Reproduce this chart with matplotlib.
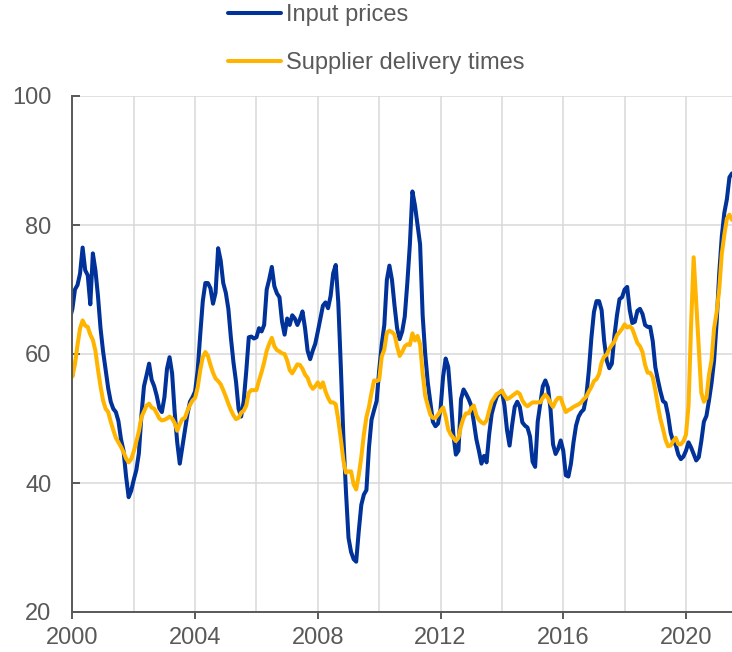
import matplotlib
matplotlib.use("Agg")
import matplotlib.pyplot as plt
import numpy as np
from matplotlib.ticker import MultipleLocator

# monthly series, Dec 1999 .. Jul 2021
START_YEAR = 1999 + 11 / 12
input_prices = [
    65.5,
    67, 70, 70.7, 72.5, 76.5, 73, 72.2, 67.7, 75.6, 73, 69, 64,
    60.4, 57.5, 54.7, 52.6, 51.5, 51, 49.6, 46.8, 45, 41, 37.8, 38.8,
    40.5, 42, 44.6, 50.5, 55, 56.7, 58.5, 56, 55, 53.5, 51.6, 51,
    53.3, 57.7, 59.5, 57, 51, 46.3, 43, 45.6, 48.3, 50.7, 52.6, 53.3,
    54.2, 57.5, 63, 68.2, 71, 71, 70.2, 67.8, 69.5, 76.4, 74.5, 71,
    69.5, 67, 62.5, 58.7, 55.7, 51.5, 50.3, 52.7, 57.3, 62.6, 62.7, 62.4,
    62.6, 64, 63.5, 64.5, 70, 71.6, 73.5, 70.5, 69.4, 68.8, 65, 63,
    65.5, 64.5, 66, 65.5, 64.5, 65.4, 66.6, 64, 60.5, 59.2, 60.5, 61.6,
    63.5, 65.5, 67.5, 68, 67.1, 69, 72.5, 73.8, 68, 58, 47, 38.7,
    31.5, 29.3, 28.2, 27.8, 32.5, 36.6, 38.2, 38.9, 45.5, 49.8, 51.3, 52.7,
    57.5, 61.5, 64.5, 71.5, 73.7, 71.5, 67.5, 64, 62.3, 63.5, 65.8, 71,
    77, 85.2, 83, 80, 77, 66, 60, 55.6, 52.6, 49.5, 48.8, 49.2,
    51.5, 56.5, 59.3, 58, 53, 47.5, 44.4, 45, 53, 54.5, 53.8, 53,
    52, 49.5, 46.8, 45, 43, 44.2, 43.2, 47.5, 50.7, 52.2, 53.4, 53.9,
    54.3, 52, 48.2, 45.8, 49, 51.8, 52.6, 51.8, 49.4, 48.9, 48.6, 47.2,
    43.3, 42.5, 49.5, 52.3, 55, 55.9, 54.8, 51.5, 46, 44.5, 45.3, 46.6,
    45, 41.2, 41, 43, 46.3, 48.9, 50.3, 51, 51.4, 53.4, 57.4, 62.5,
    66.5, 68.2, 68.2, 66.8, 62, 59, 57.8, 58.5, 62.8, 66, 68.5, 68.8,
    70, 70.4, 66.8, 64.8, 65, 66.7, 67, 66.2, 64.5, 64.2, 64.2, 62,
    58, 56, 54.2, 52.7, 52.4, 50.5, 47.8, 46.4, 45.9, 44.4, 43.7, 44.1,
    45, 46.3, 45.5, 44.5, 43.5, 44, 46.5, 49.5, 50.4, 52.8, 55.5, 59,
    65, 72.5, 78.2, 81.9, 84, 87.4, 88,
]
delivery_times = [
    61.5,
    56.5, 58.4, 61.4, 64, 65.2, 64.4, 64.2, 63, 62.2, 60.5, 57.6, 55,
    52.8, 51.5, 51, 49.5, 48.2, 47, 46.3, 45.6, 44.8, 43.8, 43.2, 43.7,
    44.9, 46.4, 48, 50.2, 51.1, 52, 52.3, 51.7, 51.5, 50.8, 50, 49.7,
    49.8, 50, 50.3, 50, 49.3, 48.1, 49.1, 49.9, 50.1, 51.2, 52.1, 52.8,
    53.2, 54.8, 57.5, 59.5, 60.3, 59.7, 58.3, 57.1, 56.2, 55.8, 55.3, 54.4,
    53.4, 52.3, 51.3, 50.5, 49.9, 50.1, 50.9, 51.2, 52, 54, 54.4, 54.4,
    54.4, 55.9, 57.2, 58.7, 60.5, 61.6, 62.5, 61.2, 60.6, 60.4, 60.1, 60,
    59, 57.5, 57, 57.7, 58.4, 58.3, 57.7, 56.8, 56.3, 55.2, 54.6, 55,
    55.6, 54.8, 55.6, 54.2, 53.2, 52.5, 52.5, 52.2, 49.8, 46.8, 43.5, 41.6,
    41.8, 41.8, 39.8, 39, 41.2, 44, 47.5, 50.2, 51.8, 54, 55.9, 55.8,
    56, 59.6, 60.7, 63.3, 63.6, 63.4, 63, 61.2, 59.7, 60.3, 61.2, 61.5,
    61.4, 63.2, 62.1, 62.8, 61.5, 57, 53.5, 52, 50.6, 50.1, 50.1, 50.6,
    51.2, 51.7, 50.3, 48.3, 47.5, 47, 46.5, 47, 48.8, 50.1, 50.8, 50.8,
    51.6, 52, 50.5, 49.8, 49.4, 49.2, 49.7, 51.2, 52.6, 53.2, 53.8, 54,
    54.3, 53.6, 53, 53.2, 53.5, 53.8, 54.1, 53.8, 52.8, 52.2, 51.9, 52.2,
    52.5, 52.5, 52.5, 52.5, 53.2, 53.7, 53.2, 52.4, 51.8, 52.7, 53.2, 53.2,
    52, 51, 51.3, 51.5, 51.8, 52, 52.2, 52.5, 53, 53.4, 54.2, 54.9,
    55.8, 56.1, 56.9, 58.7, 59.6, 59.9, 60.8, 61.4, 61.9, 62.9, 63.4, 63.9,
    64.6, 64.1, 64.3, 63.9, 62.8, 61.7, 61.2, 60.3, 58.3, 57.1, 57.1, 56.4,
    54.4, 52, 49.9, 48.4, 46.7, 45.7, 45.8, 46.5, 47, 46, 46, 46.5,
    47.5, 52, 64.5, 75, 68, 61, 54, 52.6, 53.2, 56.8, 59, 64,
    66.5, 70, 75.5, 78.5, 81, 81.6, 80.8,
]
labels = ["Input prices", "Supplier delivery times"]
colors = ["#003299", "#FFB400"]

TEXT = "#595959"
GRID = "#d9d9d9"
plt.rcParams["font.family"] = ["Liberation Sans", "DejaVu Sans"]
plt.rcParams["font.size"] = 17

x = START_YEAR + np.arange(len(input_prices)) / 12

fig = plt.figure(figsize=(7.32, 6.52), dpi=100)
ax = fig.add_axes([72.4 / 732, 40 / 652, (732 - 72.4) / 732, 516 / 652])

for vals, lab, col in zip([input_prices, delivery_times], labels, colors):
    ax.plot(x, vals, color=col, lw=2.9, label=lab, solid_capstyle="round",
            solid_joinstyle="round")

ax.set_xlim(2000, x[-1])
ax.set_ylim(20, 100)
ax.xaxis.set_major_locator(MultipleLocator(4))
ax.xaxis.set_minor_locator(MultipleLocator(2))
ax.yaxis.set_major_locator(MultipleLocator(20))
ax.grid(True, which="both", axis="x", color=GRID, lw=1.1)
ax.grid(True, which="major", axis="y", color=GRID, lw=1.1)
ax.set_axisbelow(True)

for s in ["top", "right"]:
    ax.spines[s].set_visible(False)
for s in ["left", "bottom"]:
    ax.spines[s].set_color(TEXT)
    ax.spines[s].set_linewidth(1.4)

ax.tick_params(axis="y", direction="in", length=6, width=1.4, color=TEXT,
               labelcolor=TEXT, pad=15, labelsize=17)
ax.tick_params(axis="x", which="major", direction="out", length=5, width=1.4,
               color=TEXT, labelcolor=TEXT, pad=6, labelsize=17)
ax.tick_params(axis="x", which="minor", length=0)

fig.legend(loc="upper left", bbox_to_anchor=(228 / 732, 1 - 4 / 652),
           frameon=False, borderpad=0, borderaxespad=0, handlelength=2.25,
           handletextpad=0.22, labelspacing=1.1, fontsize=17,
           labelcolor=TEXT)

fig.savefig("out.png", dpi=100)
